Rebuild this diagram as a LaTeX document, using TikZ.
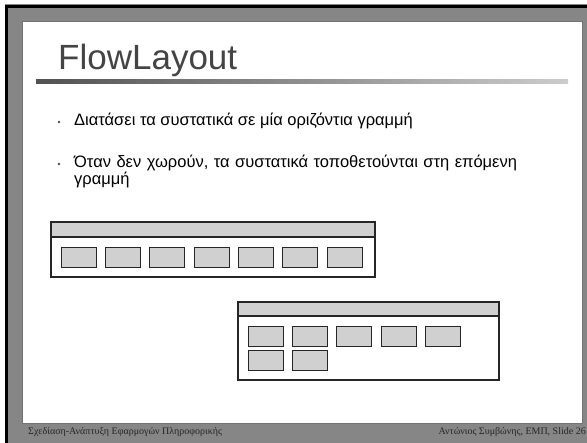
\documentclass[tikz,border=0pt]{standalone}
\usepackage{fontspec}
\setmainfont{Liberation Sans}
\newfontfamily\footfont{Liberation Serif}
\definecolor{frameedge}{HTML}{868686}
\definecolor{framemid}{HTML}{B8B8B8}
\definecolor{titlegray}{HTML}{444444}
\definecolor{panelgray}{HTML}{D0D0D0}
\definecolor{linedark}{HTML}{262626}
\tikzset{
  winframe/.style={draw=linedark, line width=1.1pt, fill=white},
  winbar/.style={draw=linedark, line width=1.1pt, fill=panelgray},
  btn/.style={draw=linedark, line width=0.9pt, fill=panelgray, minimum width=35pt, minimum height=20pt, inner sep=0pt},
  bullettext/.style={anchor=base west, inner sep=0pt, font=\fontsize{16.5}{17.5}\selectfont, text=black, align=left},
  bulletdot/.style={circle, fill=black!70, minimum size=2.6pt, inner sep=0pt},
  foottext/.style={inner sep=0pt, font=\footfont\fontsize{10}{11}\selectfont, text=black!85}
}
\begin{document}
\begin{tikzpicture}[x=1pt, y=-1pt]
\useasboundingbox (0,0) rectangle (587,443);
\fill[white] (0,0) rectangle (587,443);
% grey slide frame with a soft horizontal shading
\shade[left color=frameedge, middle color=framemid, right color=frameedge] (5,5) rectangle (587,443);
% dark outer edges on top and left
\fill[black] (5,5) rectangle (587,8);
\fill[black] (5,5) rectangle (8,443);
% white content area
\fill[white, draw=black!55, line width=0.8pt] (22.5,21) rectangle (582,423);
% title and its shaded rule
\node[anchor=base west, inner sep=0pt, font=\fontsize{35}{40}\selectfont, text=titlegray] (title) at (58,70) {FlowLayout};
\shade[left color=black!68, right color=black!20] (36,80) rectangle (568,84);
% bullet points
\node[bulletdot] (d1) at (59,122) {};
\node[bullettext] (t1) at (74,125.5) {Διατάσει τα συστατικά σε μία οριζόντια γραμμή};
\node[bulletdot] (d2) at (59,164) {};
\node[bullettext, text width=480pt] (t2) at (74,167.5) {Όταν δεν χωρούν, τα συστατικά τοποθετούνται στη επόμενη\\γραμμή};
% wide window: all buttons on one row
\draw[winframe] (51,222) rectangle (375,277);
\draw[winbar] (51,222) rectangle (375,237);
\foreach \i in {0,...,6} {
  \node[btn] (a\i) at ({78.5+44.33*\i},257) {};
}
% narrow window: buttons wrap onto a second row
\draw[winframe] (238,302) rectangle (499,380);
\draw[winbar] (238,302) rectangle (499,316);
\foreach \i in {0,...,4} {
  \node[btn] (b\i) at ({265.5+44.33*\i},336) {};
}
\foreach \i in {0,1} {
  \node[btn] (c\i) at ({265.5+44.33*\i},360) {};
}
% footer
\node[foottext, anchor=base west] (fl) at (28,435) {Σχεδίαση-Ανάπτυξη Εφαρμογών Πληροφορικής};
\node[foottext, anchor=base east] (fr) at (586,435) {Αντώνιος Συμβώνης, ΕΜΠ, Slide 26};
\end{tikzpicture}
\end{document}
